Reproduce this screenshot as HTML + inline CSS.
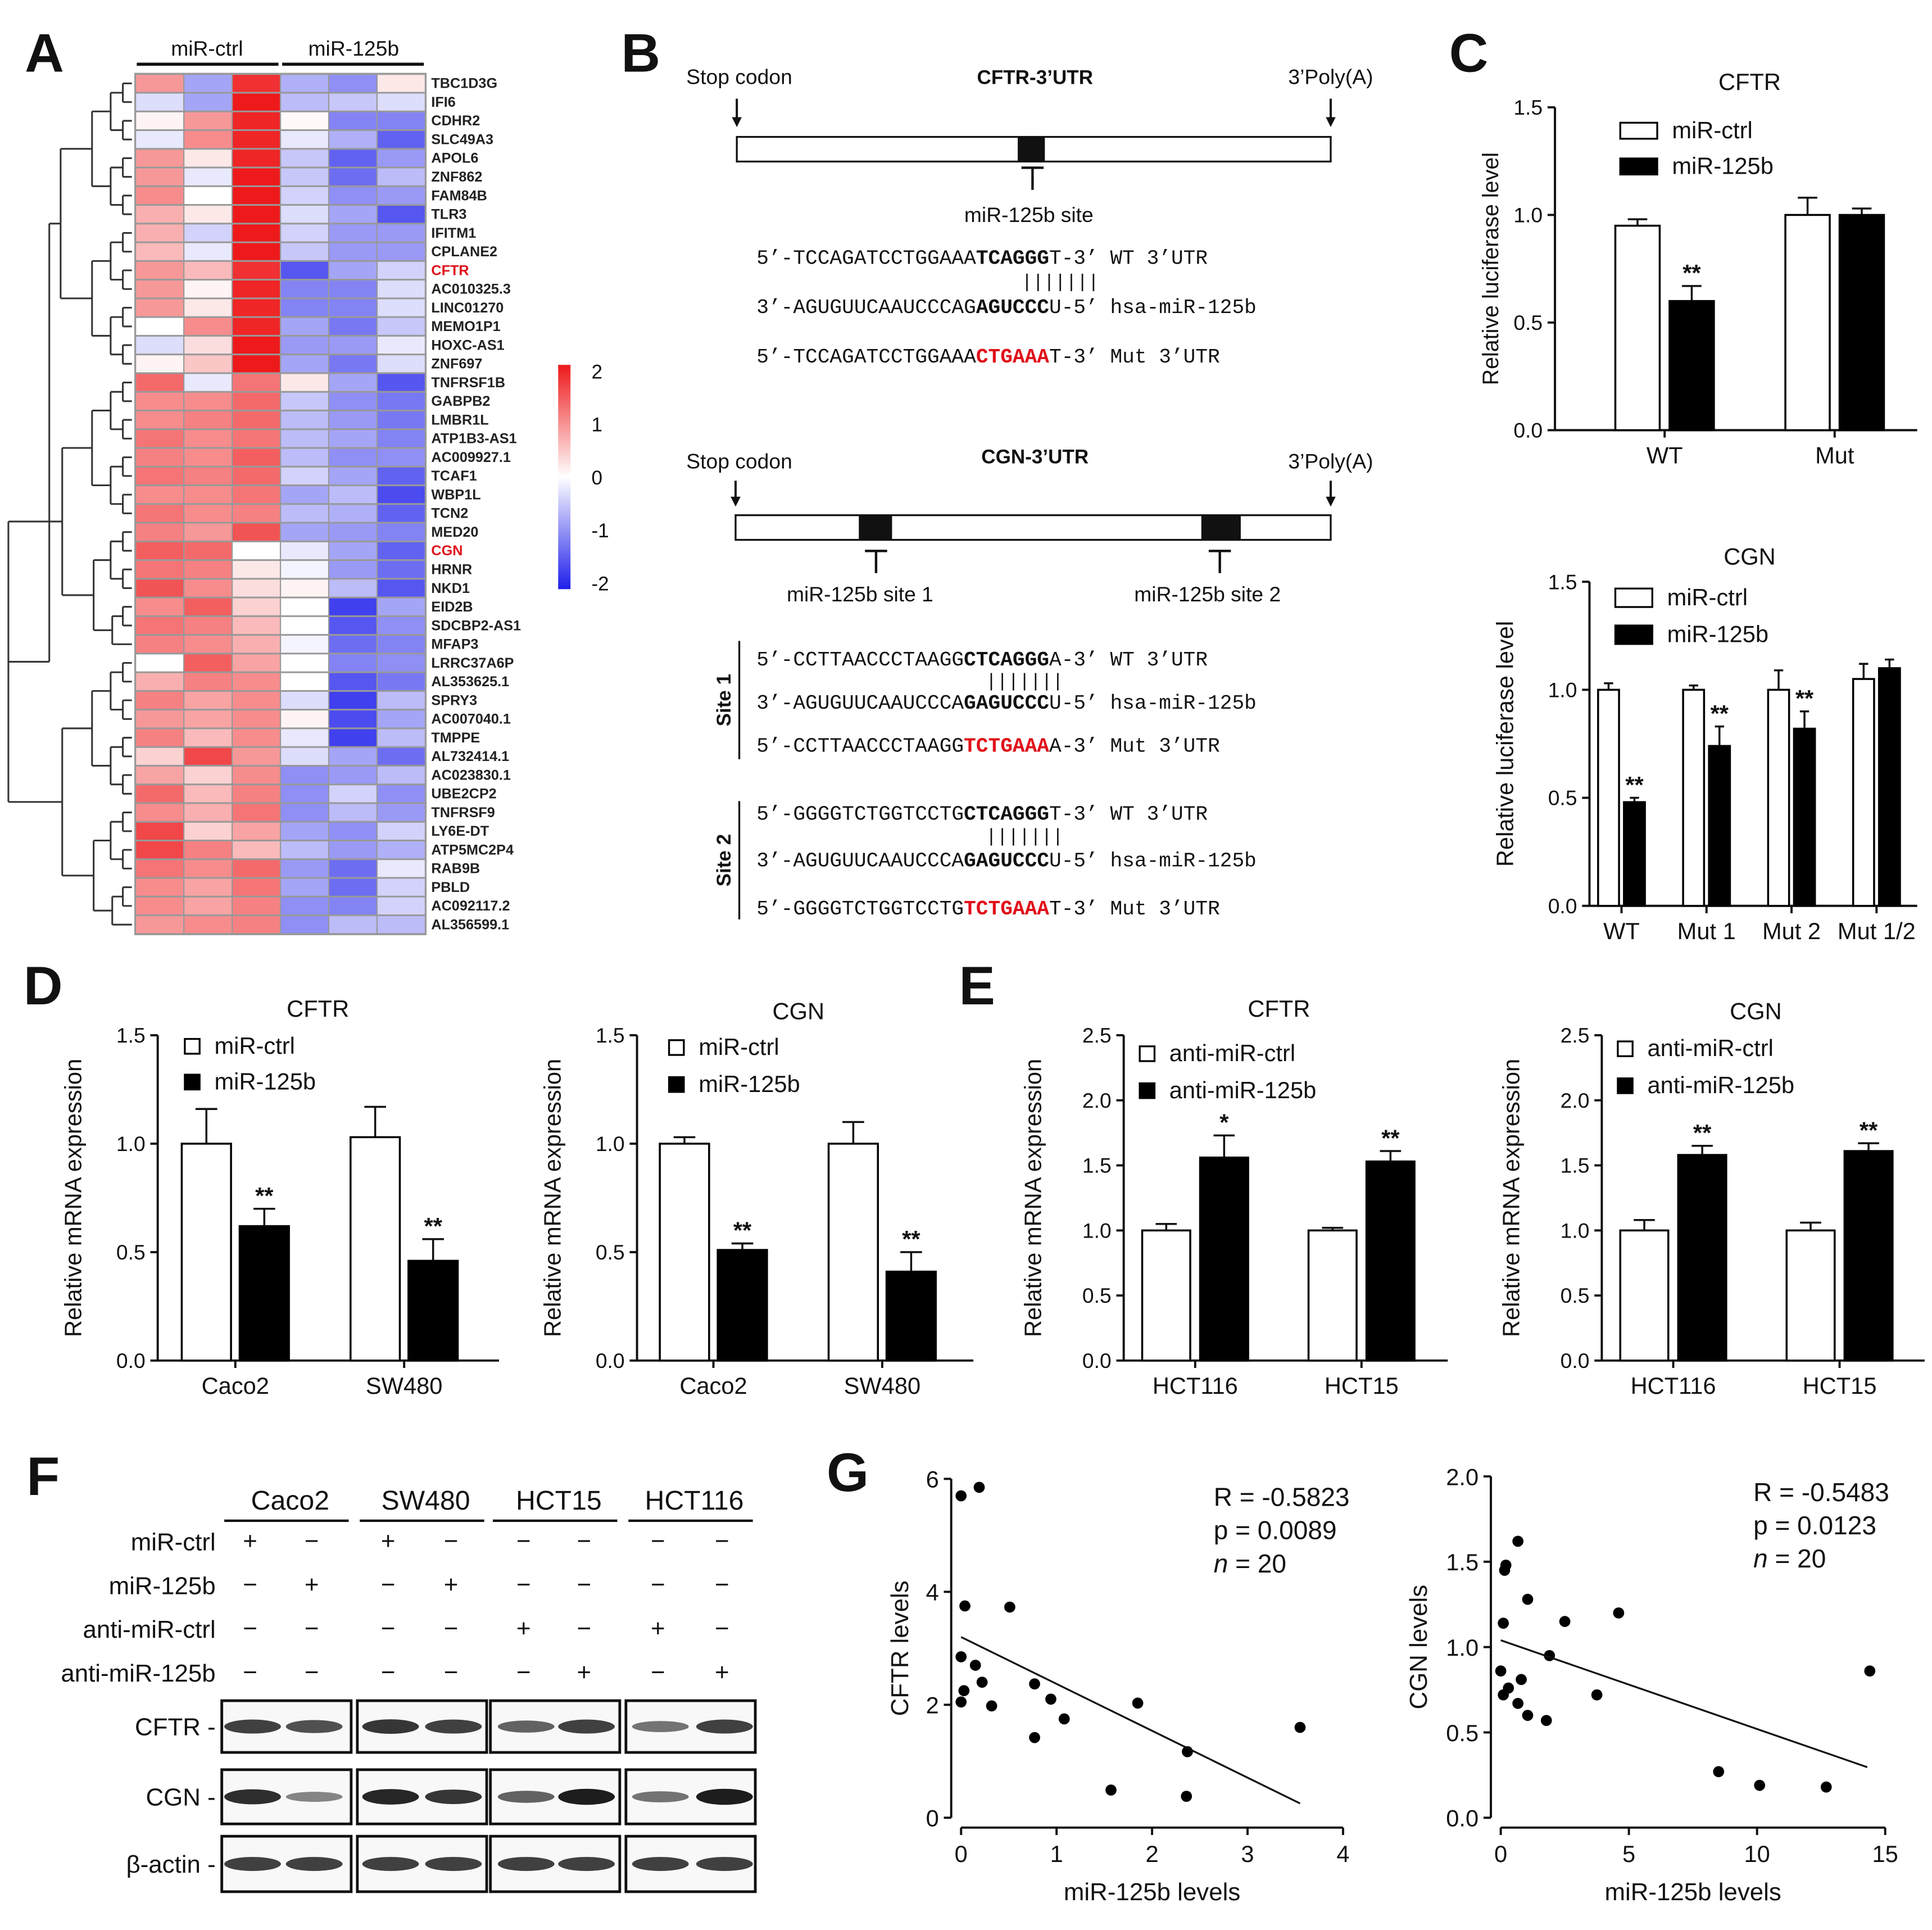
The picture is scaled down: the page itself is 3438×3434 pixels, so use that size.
<!DOCTYPE html>
<html><head><meta charset="utf-8"><style>
html,body{margin:0;padding:0;background:#fff}
svg{display:block;font-family:"Liberation Sans",Arial,sans-serif}
.mono{font-family:"Liberation Mono",monospace}
</style></head><body>
<svg id="fig" xmlns="http://www.w3.org/2000/svg" width="3438" height="3434" viewBox="0 0 1568 1566">
<rect width="1568" height="1566" fill="#fff"/>
<g id="A"></g>
<g id="B"></g>
<g id="C"></g>
<g id="D"></g>
<g id="E"></g>
<g id="F"></g>
<g id="G"></g>
</svg>
<script>
// ---------- DATA ----------
const geneLabels=["TBC1D3G","IFI6","CDHR2","SLC49A3","APOL6","ZNF862","FAM84B","TLR3","IFITM1","CPLANE2","CFTR","AC010325.3","LINC01270","MEMO1P1","HOXC-AS1","ZNF697","TNFRSF1B","GABPB2","LMBR1L","ATP1B3-AS1","AC009927.1","TCAF1","WBP1L","TCN2","MED20","CGN","HRNR","NKD1","EID2B","SDCBP2-AS1","MFAP3","LRRC37A6P","AL353625.1","SPRY3","AC007040.1","TMPPE","AL732414.1","AC023830.1","UBE2CP2","TNFRSF9","LY6E-DT","ATP5MC2P4","RAB9B","PBLD","AC092117.2","AL356599.1"];
const heatValues=[
[0.9,-0.8,1.8,-0.7,-1.0,0.2],[-0.3,-0.8,2,-0.6,-0.5,-0.3],[0.1,0.9,1.9,0.05,-1.1,-1.1],[-0.2,1,1.9,-0.2,-0.7,-1.4],
[0.9,0.2,1.9,-0.5,-1.4,-0.9],[0.9,-0.2,2,-0.5,-1.3,-0.6],[1,0,2,-0.4,-1,-0.9],[0.7,0.2,2,-0.3,-0.8,-1.5],
[0.7,-0.4,2,-0.4,-0.9,-0.9],[0.6,-0.2,2,-0.5,-0.9,-0.9],[0.9,0.6,1.8,-1.5,-0.8,-0.4],[0.9,0.1,1.9,-1.1,-1.1,-0.3],
[0.9,0.2,1.9,-1.1,-1.1,-0.3],[0,1,1.9,-0.8,-1.2,-0.5],[-0.3,0.3,2,-0.9,-0.9,-0.2],[0.1,0.5,2,-0.8,-1.2,-0.3],
[1.3,-0.2,1.2,0.2,-0.8,-1.5],[1,1,1.3,-0.5,-1,-1.2],[1,1.1,1.3,-0.6,-0.9,-1.2],[1.2,1,1.2,-0.6,-0.8,-1.1],
[1.1,1,1.4,-0.6,-1,-1],[1.2,1.1,1.3,-0.4,-0.8,-1.4],[1,1,1.2,-0.8,-0.6,-1.6],[1.2,1,1.1,-0.6,-0.7,-1.4],
[1.1,0.9,1.5,-0.8,-0.9,-1.1],[1.4,1.3,0,-0.2,-0.8,-1.4],[1.2,1.1,0.2,-0.1,-0.9,-1.3],[1.5,1,0.3,0.1,-0.6,-1.5],
[1,1.4,0.4,0,-1.7,-0.8],[1.2,1.1,0.6,0,-1.5,-1],[1.1,1,0.7,-0.1,-1.3,-1.1],[0,1.4,0.8,0,-1.1,-1],
[0.7,1.1,1,0,-1.5,-1.2],[1.1,0.8,1,-0.3,-1.7,-0.6],[0.9,0.8,1,0.1,-1.6,-0.8],[1.1,0.6,1,-0.2,-1.7,-0.6],
[0.4,1.6,0.9,-0.3,-0.8,-1.3],[0.8,0.4,1,-1,-0.9,-0.6],[1.3,0.6,1.1,-1,-0.4,-1],[1,0.7,1.2,-1,-0.6,-0.9],
[1.6,0.4,0.8,-0.8,-1,-0.4],[1.6,1.1,0.6,-0.6,-0.9,-0.7],[1.2,1,1.3,-0.9,-1.3,-0.2],[1,0.8,1.2,-0.8,-1.3,-0.4],
[1,0.8,1.1,-1,-1.1,-0.4],[0.9,1,1.1,-1,-0.6,-0.6]];
const colorbarTicks=[2,1,0,-1,-2];

const cTopCats=["WT","Mut"], cTopCtrl=[0.95,1.0], cTopCtrlErr=[0.03,0.08], cTopB=[0.60,1.0], cTopBErr=[0.07,0.03], cTopStars=["**",""];
const cBotCats=["WT","Mut 1","Mut 2","Mut 1/2"], cBotCtrl=[1.0,1.0,1.0,1.05], cBotCtrlErr=[0.03,0.02,0.09,0.07], cBotB=[0.48,0.74,0.82,1.10], cBotBErr=[0.02,0.09,0.08,0.04], cBotStars=["**","**","**",""];
const lucTicks=[0,0.5,1.0,1.5], lucTickLabels=["0.0","0.5","1.0","1.5"];
const dCats=["Caco2","SW480"];
const dCftrCtrl=[1.0,1.03], dCftrCtrlErr=[0.16,0.14], dCftrB=[0.62,0.46], dCftrBErr=[0.08,0.10], dCftrStars=["**","**"];
const dCgnCtrl=[1.0,1.0], dCgnCtrlErr=[0.03,0.10], dCgnB=[0.51,0.41], dCgnBErr=[0.03,0.09], dCgnStars=["**","**"];
const eCats=["HCT116","HCT15"];
const eCftrCtrl=[1.0,1.0], eCftrCtrlErr=[0.05,0.02], eCftrB=[1.56,1.53], eCftrBErr=[0.17,0.08], eCftrStars=["*","**"];
const eCgnCtrl=[1.0,1.0], eCgnCtrlErr=[0.08,0.06], eCgnB=[1.58,1.61], eCgnBErr=[0.07,0.06], eCgnStars=["**","**"];
const eTicks=[0,0.5,1.0,1.5,2.0,2.5], eTickLabels=["0.0","0.5","1.0","1.5","2.0","2.5"];

const gCftrX=[0,0.19,0.04,0.51,0,0.15,0.22,0.03,0,0.32,0.77,0.94,1.08,0.77,1.85,2.37,3.55,1.57,2.36];
const gCftrY=[5.7,5.85,3.75,3.73,2.85,2.7,2.4,2.25,2.05,1.98,2.37,2.1,1.75,1.42,2.03,1.17,1.6,0.49,0.38];
const gCftrFit=[3.2,-0.83];
const gCgnX=[0.15,0.2,0.67,1.05,0.1,2.5,4.6,1.9,0,0.8,0.3,0.1,0.67,1.05,1.78,3.75,8.5,10.1,12.7,14.4];
const gCgnY=[1.45,1.48,1.62,1.28,1.14,1.15,1.2,0.95,0.86,0.81,0.76,0.72,0.67,0.6,0.57,0.72,0.27,0.19,0.18,0.86];
const gCgnFit=[1.04,-0.052];

const blotGroups=["Caco2","SW480","HCT15","HCT116"];
const blotRowLabels=["miR-ctrl","miR-125b","anti-miR-ctrl","anti-miR-125b"];
const blotSigns=[["+","−","+","−","−","−","−","−"],["−","+","−","+","−","−","−","−"],["−","−","−","−","+","−","+","−"],["−","−","−","−","−","+","−","+"]];
const blotProteins=["CFTR","CGN","β-actin"];
const blotIntensity=[[0.8,0.7,0.85,0.8,0.6,0.8,0.5,0.8],[0.9,0.4,0.95,0.85,0.6,1.0,0.5,1.0],[0.8,0.8,0.8,0.8,0.8,0.8,0.8,0.8]];

// ---------- HELPERS ----------
const NS="http://www.w3.org/2000/svg";
function el(parent,tag,attrs,text){const e=document.createElementNS(NS,tag);for(const k in attrs)e.setAttribute(k,attrs[k]);if(text!==undefined)e.textContent=text;parent.appendChild(e);return e;}
function txt(p,x,y,s,size,opt){opt=opt||{};const a={x:x,y:y,"font-size":size,"text-anchor":opt.anchor||"middle",fill:opt.fill||"#111"};if(opt.weight)a["font-weight"]=opt.weight;if(opt.rot)a.transform=`rotate(${opt.rot} ${x} ${y})`;if(opt.cls)a["class"]=opt.cls;const t=el(p,"text",a,s);return t;}
function line(p,x1,y1,x2,y2,w,c){return el(p,"line",{x1:x1,y1:y1,x2:x2,y2:y2,stroke:c||"#111","stroke-width":w||2});}
function heatColor(v){const t=Math.min(1,Math.abs(v)/2);if(v>=0){return `rgb(${Math.round(255-t*17)},${Math.round(255-t*230)},${Math.round(255-t*228)})`;}return `rgb(${Math.round(255-t*225)},${Math.round(255-t*225)},${Math.round(255-t*20)})`;}

// ---------- PANEL A ----------
(function(){
const g=document.getElementById("A");
txt(g,36,58,"A",44,{weight:"bold",name:"panel-label-a"});
const x0=110,cw=39.2,y0=60,rh=15.17;
txt(g,168,45,"miR-ctrl",17,{name:"group-label-mir-ctrl"});
txt(g,287,45,"miR-125b",17,{name:"group-label-mir-125b"});
line(g,111,52,226,52,2.5);line(g,229,52,344,52,2.5);
el(g,"rect",{x:x0-1,y:y0-1,width:cw*6+2,height:rh*46+2,fill:"#999"});
heatValues.forEach((row,i)=>{row.forEach((v,j)=>{
 const r=el(g,"rect",{x:x0+j*cw+0.5,y:y0+i*rh+0.7,width:cw-1,height:rh-1.4,fill:heatColor(v)});
 });
 const red=(geneLabels[i]==="CFTR"||geneLabels[i]==="CGN");
 txt(g,350,y0+i*rh+rh*0.75,geneLabels[i],11.5,{anchor:"start",weight:"bold",fill:red?"#e0101a":"#222",name:"gene-label"});
});
const leafX=x0-3;
function tree(a,b,depth){ if(a===b) return {x:leafX,y:y0+a*rh+rh/2};
 const m=Math.floor((a+b)/2);const l=tree(a,m,depth+1),r=tree(m+1,b,depth+1);
 const x=Math.min(l.x,r.x)-(6+ (b-a)*1.3);
 line(g,x,l.y,l.x,l.y,1.4,"#333");line(g,x,r.y,r.x,r.y,1.4,"#333");line(g,x,l.y,x,r.y,1.4,"#333");
 return {x:x,y:(l.y+r.y)/2};}
const t1=tree(0,15,0),t2=tree(16,45,0);
const xr=40;line(g,xr,t1.y,t1.x,t1.y,1.4,"#333");line(g,xr,t2.y,t2.x,t2.y,1.4,"#333");line(g,xr,t1.y,xr,t2.y,1.4,"#333");
const defs=el(g,"defs",{});const lg=el(defs,"linearGradient",{id:"cb",x1:0,y1:0,x2:0,y2:1});
[[0,"rgb(238,25,27)"],[0.5,"#fff"],[1,"rgb(30,30,235)"]].forEach(s=>el(lg,"stop",{offset:s[0],"stop-color":s[1]}));
const cb=el(g,"rect",{x:453,y:296,width:10,height:182,fill:"url(#cb)"});
colorbarTicks.forEach(v=>txt(g,480,387-v*43+6,String(v),16,{anchor:"start",name:"colorbar-tick"}));
})();

// ---------- PANEL B ----------
(function(){
const g=document.getElementById("B");
txt(g,520,58,"B",44,{weight:"bold",name:"panel-label-b"});
function arrow(x,y1,y2){line(g,x,y1,x,y2-6,1.8);el(g,"path",{d:`M${x-4},${y2-8} L${x+4},${y2-8} L${x},${y2} Z`,fill:"#111"});}
function tee(x,y){line(g,x-9,y,x+9,y,2);line(g,x,y,x,y+18,2);}
txt(g,600,68,"Stop codon",17,{name:"stop-codon-label"});txt(g,840,68,"CFTR-3’UTR",16,{weight:"bold",name:"cftr-utr-title"});txt(g,1080,68,"3’Poly(A)",17,{name:"polya-label"});
arrow(598,80,103);arrow(1080,80,103);
el(g,"rect",{x:598,y:111,width:482,height:20,fill:"#fff",stroke:"#111","stroke-width":1.5});
el(g,"rect",{x:826,y:111,width:22,height:20,fill:"#111"});tee(838,136);
txt(g,835,180,"miR-125b site",17,{name:"site-label"});
function seq(x,y,parts){const t=el(g,"text",{x:x,y:y,"font-size":16.5,"class":"mono",fill:"#111"});
 parts.forEach(p=>{const s=el(t,"tspan",{},p[0]);if(p[1]==="b")s.setAttribute("font-weight","bold");if(p[1]==="r"){s.setAttribute("font-weight","bold");s.setAttribute("fill","#e0101a");}});}
seq(614,214,[["5’-TCCAGATCCTGGAAA"],["TCAGGG","b"],["T-3’  WT  3’UTR"]]);
txt(g,829,233,"|||||||",15,{anchor:"start",cls:"mono",name:"pairing"});
seq(614,254,[["3’-AGUGUUCAAUCCCAG"],["AGUCCC","b"],["U-5’ hsa-miR-125b"]]);
seq(614,294,[["5’-TCCAGATCCTGGAAA"],["CTGAAA","r"],["T-3’ Mut 3’UTR"]]);
txt(g,600,380,"Stop codon",17,{name:"stop-codon-label"});txt(g,840,376,"CGN-3’UTR",16,{weight:"bold",name:"cgn-utr-title"});txt(g,1080,380,"3’Poly(A)",17,{name:"polya-label"});
arrow(597,390,411);arrow(1080,390,411);
el(g,"rect",{x:597,y:418,width:483,height:20,fill:"#fff",stroke:"#111","stroke-width":1.5});
el(g,"rect",{x:697,y:418,width:27,height:20,fill:"#111"});el(g,"rect",{x:975,y:418,width:32,height:20,fill:"#111"});
tee(711,447);tee(990,447);
txt(g,698,488,"miR-125b site 1",17,{name:"site1-label"});txt(g,980,488,"miR-125b site 2",17,{name:"site2-label"});
line(g,600,520,600,616,1.5);line(g,600,650,600,746,1.5);
txt(g,593,568,"Site 1",16,{weight:"bold",rot:-90,name:"site1-side-label"});txt(g,593,698,"Site 2",16,{weight:"bold",rot:-90,name:"site2-side-label"});
seq(614,540,[["5’-CCTTAACCCTAAGG"],["CTCAGGG","b"],["A-3’ WT 3’UTR"]]);
txt(g,800,557,"|||||||",15,{anchor:"start",cls:"mono",name:"pairing"});
seq(614,575,[["3’-AGUGUUCAAUCCCA"],["GAGUCCC","b"],["U-5’ hsa-miR-125b"]]);
seq(614,610,[["5’-CCTTAACCCTAAGG"],["TCTGAAA","r"],["A-3’ Mut 3’UTR"]]);
seq(614,665,[["5’-GGGGTCTGGTCCTG"],["CTCAGGG","b"],["T-3’ WT 3’UTR"]]);
txt(g,800,683,"|||||||",15,{anchor:"start",cls:"mono",name:"pairing"});
seq(614,703,[["3’-AGUGUUCAAUCCCA"],["GAGUCCC","b"],["U-5’ hsa-miR-125b"]]);
seq(614,742,[["5’-GGGGTCTGGTCCTG"],["TCTGAAA","r"],["T-3’ Mut 3’UTR"]]);
})();

// ---------- BAR CHARTS ----------
function barChart(g,o){
 const sy=v=>o.yb-(v-o.ticks[0])/(o.ticks[o.ticks.length-1]-o.ticks[0])*(o.yb-o.yt);
 line(g,o.ax,o.yt,o.ax,o.yb,1.8);line(g,o.ax,o.yb,o.axEnd,o.yb,1.8);
 o.ticks.forEach((t,i)=>{line(g,o.ax-6,sy(t),o.ax,sy(t),1.8);txt(g,o.ax-10,sy(t)+6,o.tickLabels[i],17,{anchor:"end",name:"y-tick-label"});});
 const n=o.cats.length,band=(o.x1-o.x0)/n;
 o.cats.forEach((c,i)=>{const cx=o.x0+band*(i+0.5);
  line(g,cx,o.yb,cx,o.yb+6,1.8);
  txt(g,cx,o.yb+27,c,19,{name:"x-tick-label"});
  [[o.ctrl,o.ctrlErr,"#fff",cx-o.gap/2-o.bw],[o.b,o.bErr,"#000",cx+o.gap/2]].forEach(s=>{
   const v=s[0][i],e=s[1][i],top=sy(v);
   line(g,s[3]+o.bw/2,sy(v+e),s[3]+o.bw/2,top,1.6);line(g,s[3]+o.bw/2-o.bw*0.22,sy(v+e),s[3]+o.bw/2+o.bw*0.22,sy(v+e),1.6);
   const r=el(g,"rect",{x:s[3],y:top,width:o.bw,height:o.yb-top,fill:s[2],stroke:"#000","stroke-width":1.6});
   });
  if(o.stars[i])txt(g,cx+o.gap/2+o.bw/2,sy(o.b[i]+o.bErr[i])-4,o.stars[i],19,{weight:"bold",name:"significance"});
 });
 txt(g,o.titleX,o.titleY,o.title,19,{name:"chart-title"});
 txt(g,o.yTitleX,(o.yt+o.yb)/2,o.yTitle,o.yTitleSize||19,{rot:-90,name:"y-axis-title"});
 o.legend.forEach((L,i)=>{const ly=o.legY+i*o.legDy;
  const r=el(g,"rect",{x:o.legX,y:ly-o.legH/2,width:o.legW,height:o.legH,fill:i?"#000":"#fff",stroke:"#000","stroke-width":1.5});
  
  txt(g,o.legX+o.legW+12,ly+6,L,19,{anchor:"start",name:"legend-entry"});});
}
(function(){
const g=document.getElementById("C");
txt(g,1192,58,"C",44,{weight:"bold",name:"panel-label-c"});
barChart(g,{ax:1262,axEnd:1556,yt:87,yb:349,x0:1282,x1:1558,bw:36,gap:8,ticks:lucTicks,tickLabels:lucTickLabels,cats:cTopCats,ctrl:cTopCtrl,ctrlErr:cTopCtrlErr,b:cTopB,bErr:cTopBErr,stars:cTopStars,title:"CFTR",titleX:1420,titleY:73,yTitle:"Relative luciferase level",yTitleX:1216,yTitleSize:18,legend:["miR-ctrl","miR-125b"],legX:1315,legY:106,legDy:29,legW:30,legH:13});
barChart(g,{ax:1290,axEnd:1556,yt:472,yb:735,x0:1281.5,x1:1557.5,bw:17,gap:4,ticks:lucTicks,tickLabels:lucTickLabels,cats:cBotCats,ctrl:cBotCtrl,ctrlErr:cBotCtrlErr,b:cBotB,bErr:cBotBErr,stars:cBotStars,title:"CGN",titleX:1420,titleY:458,yTitle:"Relative luciferase level",yTitleX:1228,legend:["miR-ctrl","miR-125b"],legX:1311,legY:485,legDy:30,legW:30,legH:15});
})();
(function(){
const g=document.getElementById("D");
txt(g,35,815,"D",44,{weight:"bold",name:"panel-label-d"});
barChart(g,{ax:128,axEnd:405,yt:840,yb:1104,x0:122.5,x1:396.5,bw:40,gap:7,ticks:lucTicks,tickLabels:lucTickLabels,cats:dCats,ctrl:dCftrCtrl,ctrlErr:dCftrCtrlErr,b:dCftrB,bErr:dCftrBErr,stars:dCftrStars,title:"CFTR",titleX:258,titleY:825,yTitle:"Relative mRNA expression",yTitleX:66,legend:["miR-ctrl","miR-125b"],legX:150,legY:849,legDy:29,legW:12,legH:12});
barChart(g,{ax:517,axEnd:790,yt:840,yb:1104,x0:510.5,x1:784.5,bw:40,gap:7,ticks:lucTicks,tickLabels:lucTickLabels,cats:dCats,ctrl:dCgnCtrl,ctrlErr:dCgnCtrlErr,b:dCgnB,bErr:dCgnBErr,stars:dCgnStars,title:"CGN",titleX:648,titleY:827,yTitle:"Relative mRNA expression",yTitleX:455,legend:["miR-ctrl","miR-125b"],legX:543,legY:850,legDy:30,legW:12,legH:12});
})();
(function(){
const g=document.getElementById("E");
txt(g,793,815,"E",44,{weight:"bold",name:"panel-label-e"});
barChart(g,{ax:912,axEnd:1175,yt:840,yb:1104,x0:902.5,x1:1172.5,bw:39,gap:8,ticks:eTicks,tickLabels:eTickLabels,cats:eCats,ctrl:eCftrCtrl,ctrlErr:eCftrCtrlErr,b:eCftrB,bErr:eCftrBErr,stars:eCftrStars,title:"CFTR",titleX:1038,titleY:825,yTitle:"Relative mRNA expression",yTitleX:845,legend:["anti-miR-ctrl","anti-miR-125b"],legX:925,legY:855,legDy:30,legW:12,legH:12});
barChart(g,{ax:1300,axEnd:1562,yt:840,yb:1104,x0:1290.5,x1:1560.5,bw:39,gap:8,ticks:eTicks,tickLabels:eTickLabels,cats:eCats,ctrl:eCgnCtrl,ctrlErr:eCgnCtrlErr,b:eCgnB,bErr:eCgnBErr,stars:eCgnStars,title:"CGN",titleX:1425,titleY:827,yTitle:"Relative mRNA expression",yTitleX:1233,legend:["anti-miR-ctrl","anti-miR-125b"],legX:1313,legY:851,legDy:30,legW:12,legH:12});
})();

// ---------- PANEL F ----------
(function(){
const g=document.getElementById("F");
txt(g,35,1213,"F",44,{weight:"bold",name:"panel-label-f"});
const boxes=[[180,285],[290,395],[398,503],[508,613]];
const laneX=[203,253,315,366,425,474,534,586];
boxes.forEach((b,i)=>{txt(g,(b[0]+b[1])/2+3,1225,blotGroups[i],22,{name:"cell-line-header"});line(g,b[0]+2,1234,b[1]-2,1234,2);});
blotRowLabels.forEach((L,r)=>{const y=1258+r*35.5;txt(g,175,y,L,20,{anchor:"end",name:"treatment-label"});
 blotSigns[r].forEach((s,j)=>txt(g,laneX[j],y-1,s,20,{name:"treatment-sign"}));});
const rowsY=[[1380,1422],[1436,1480],[1490,1535]];
blotProteins.forEach((p,r)=>{const y0=rowsY[r][0],y1=rowsY[r][1],cy=(y0+y1)/2;
 txt(g,175,cy+7,p+" -",20,{anchor:"end",name:"protein-label"});
 boxes.forEach(b=>{const bx=el(g,"rect",{x:b[0],y:y0,width:b[1]-b[0],height:y1-y0,fill:"#f8f8f8",stroke:"#111","stroke-width":2.2});});
 laneX.forEach((x,j)=>{const k=blotIntensity[r][j];
  const e=el(g,"ellipse",{cx:x+2,cy:cy,rx:23,ry:2.5+4*k,fill:"#111","fill-opacity":0.2+0.75*k});
  });
});
})();

// ---------- PANEL G ----------
function scatter(g,o){
 const sx=v=>o.xl+(v-o.xd[0])/(o.xd[1]-o.xd[0])*(o.xr-o.xl);
 const sy=v=>o.yb-(v-o.yd[0])/(o.yd[1]-o.yd[0])*(o.yb-o.yt);
 line(g,o.xl-8,sy(o.yd[0]),o.xl-8,sy(o.yd[1]),1.8);line(g,sx(o.xd[0]),o.yb+8,sx(o.xd[1]),o.yb+8,1.8);
 o.yTicks.forEach((t,i)=>{line(g,o.xl-14,sy(t),o.xl-8,sy(t),1.8);txt(g,o.xl-18,sy(t)+7,o.yTickLabels[i],19,{anchor:"end",name:"y-tick-label"});});
 o.xTicks.forEach(t=>{line(g,sx(t),o.yb+8,sx(t),o.yb+14,1.8);txt(g,sx(t),o.yb+36,String(t),19,{name:"x-tick-label"});});
 o.xs.forEach((x,i)=>{const c=el(g,"circle",{cx:sx(x),cy:sy(o.ys[i]),r:4.5,fill:"#000"});});
 const l=line(g,sx(o.fitX[0]),sy(o.fit[0]+o.fit[1]*o.fitX[0]),sx(o.fitX[1]),sy(o.fit[0]+o.fit[1]*o.fitX[1]),1.5);
 
 txt(g,(o.xl+o.xr)/2,o.yb+67,"miR-125b levels",20,{name:"x-axis-title"});
 txt(g,o.yTitleX,(o.yt+o.yb)/2,o.yTitle,20,{rot:-90,name:"y-axis-title"});
 o.stats.forEach((s,i)=>{const t=txt(g,o.statX,o.statY+i*27,"",21,{anchor:"start",name:"stat-text"});
  if(s[0]){el(t,"tspan",{"font-style":"italic"},s[0]);} el(t,"tspan",{},s[1]);});
}
(function(){
const g=document.getElementById("G");
txt(g,688,1210,"G",44,{weight:"bold",name:"panel-label-g"});
scatter(g,{xl:780,xr:1090,xd:[0,4],yt:1200,yb:1475,yd:[0,6],xs:gCftrX,ys:gCftrY,fit:gCftrFit,fitX:[0,3.55],yTicks:[0,2,4,6],yTickLabels:["0","2","4","6"],xTicks:[0,1,2,3,4],yTitle:"CFTR levels",yTitleX:737,statX:985,statY:1222,stats:[["","R = -0.5823"],["","p = 0.0089"],["n"," = 20"]]});
scatter(g,{xl:1218,xr:1530,xd:[0,15],yt:1198,yb:1475,yd:[0,2],xs:gCgnX,ys:gCgnY,fit:gCgnFit,fitX:[0,14.3],yTicks:[0,0.5,1,1.5,2],yTickLabels:["0.0","0.5","1.0","1.5","2.0"],xTicks:[0,5,10,15],yTitle:"CGN levels",yTitleX:1158,statX:1423,statY:1218,stats:[["","R = -0.5483"],["","p = 0.0123"],["n"," = 20"]]});
})();
</script>
</body></html>
